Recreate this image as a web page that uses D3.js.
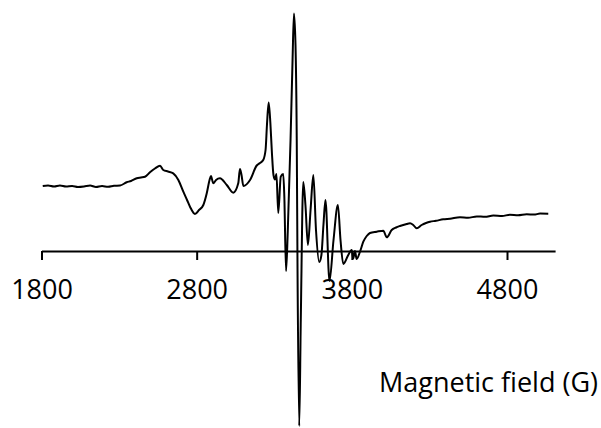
<!DOCTYPE html>
<html>
<head>
<meta charset="utf-8">
<script src="https://cdn.jsdelivr.net/npm/d3@7"></script>
<style>
  html, body { margin: 0; padding: 0; background: #fff; }
  svg { display: block; }
</style>
</head>
<body>
<svg id="chart" width="601" height="428"></svg>
<script>
// EPR spectrum: magnetic field (G) vs. first-derivative signal (arbitrary units)
const fieldG = [
  1808, 1842, 1881, 1919, 1958, 1997, 2035, 2074, 2113, 2151,
  2190, 2229, 2267, 2306, 2349, 2377, 2414, 2441, 2467, 2499,
  2531, 2564, 2585, 2615, 2649, 2682, 2714, 2738, 2757, 2789,
  2815, 2843, 2865, 2883, 2892, 2907, 2925, 2950, 2994, 3036,
  3068, 3079, 3089, 3101, 3144, 3187, 3208, 3229, 3244, 3253,
  3264, 3275, 3285, 3295, 3305, 3314, 3326, 3342, 3358, 3365,
  3376, 3387, 3405, 3418, 3427, 3437, 3445, 3450, 3461, 3471,
  3487, 3501, 3517, 3534, 3552, 3569, 3590, 3604, 3617, 3630,
  3656, 3682, 3710, 3727, 3745, 3777, 3799, 3809, 3820, 3831,
  3853, 3874, 3896, 3917, 3960, 4003, 4025, 4057, 4085, 4110,
  4154, 4175, 4196, 4218, 4250, 4278, 4304, 4342, 4389, 4433,
  4497, 4549, 4605, 4658, 4712, 4768, 4819, 4871, 4927, 4974,
  5013, 5066
];

const intensity = [
  65, 65.5, 64.5, 65.5, 64.5, 65, 64, 64.5, 65.5, 64,
  65, 64.2, 65.2, 65.5, 68.7, 70, 72.7, 73.5, 74.3, 78.7,
  82.5, 85.3, 81, 79.5, 77.7, 71, 59.3, 51, 44.3, 37,
  41, 46, 57.7, 71, 75, 67.7, 71, 72.7, 66, 58.3,
  67.7, 82, 76, 65, 71, 85.5, 88, 91, 101, 126,
  148.5, 128, 98, 76, 71.5, 77, 38, 74.3, 77, 54.3,
  -20, 19, 111, 191, 237.5, 206, 111, -19, -175, -69,
  69, 46, 6, 41, 76, 21, -11, -4, 26, 51,
  -30, 11, 46, 11, -13, -4, 1, -7.5, 0, -8,
  -0.5, 9.3, 15, 18, 19.3, 20.3, 13.7, 21, 23.5, 25,
  27, 27.7, 26, 22.7, 26, 28, 29.3, 30.2, 31.7, 32.3,
  33.7, 33.2, 34.6, 34.2, 35.4, 35, 36.3, 35.8, 36.8, 36.4,
  37.4, 37.3
];

const tickValues = [1800, 2800, 3800, 4800];
const axisTitle = "Magnetic field (G)";

const svg = d3.select("#chart");
const width = 601, height = 428;

const x = d3.scaleLinear().domain([1800, 5110]).range([41.5, 555.1]);
const y = d3.scaleLinear().domain([-177, 251]).range([height, 0]);

// spectrum trace
const points = fieldG.map((g, i) => [g, intensity[i]]);
const line = d3.line()
  .x(d => x(d[0]))
  .y(d => y(d[1]))
  .curve(d3.curveMonotoneX);

svg.append("path")
  .datum(points)
  .attr("fill", "none")
  .attr("stroke", "#000")
  .attr("stroke-width", 2)
  .attr("stroke-linejoin", "round")
  .attr("d", line);

// horizontal axis through zero signal
const axis = d3.axisBottom(x)
  .tickValues(tickValues)
  .tickFormat(d3.format("d"))
  .tickSizeInner(9)
  .tickSizeOuter(0)
  .tickPadding(20);

const gAxis = svg.append("g")
  .attr("transform", `translate(0,${y(0)})`)
  .call(axis);

gAxis.select(".domain").attr("stroke", "#000").attr("stroke-width", 2);
gAxis.selectAll(".tick line").attr("stroke", "#000").attr("stroke-width", 2);
gAxis.selectAll(".tick text")
  .attr("fill", "#000")
  .style("font-family", "'Open Sans', sans-serif")
  .style("font-size", "27px");

svg.append("text")
  .attr("x", 598)
  .attr("y", 392)
  .attr("text-anchor", "end")
  .attr("fill", "#000")
  .style("font-family", "'Open Sans', sans-serif")
  .style("font-size", "27px")
  .text(axisTitle);
</script>
</body>
</html>
